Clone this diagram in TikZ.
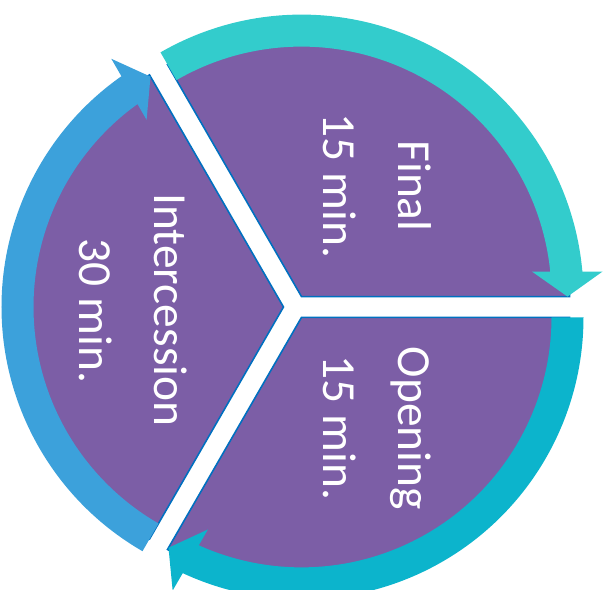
\documentclass[tikz,border=0pt]{standalone}
\usepackage{fontspec}
\setmainfont{Carlito}
\definecolor{sectorPurple}{RGB}{124,94,166}
\definecolor{edgeBlue}{RGB}{0,112,192}
\definecolor{arrowTeal}{RGB}{51,204,204}
\definecolor{arrowCyan}{RGB}{12,180,204}
\definecolor{arrowBlue}{RGB}{60,161,219}
\begin{document}
\begin{tikzpicture}[x=0.02cm, y=0.02cm,
  sector/.style={fill=sectorPurple, draw=edgeBlue, line width=0.9pt},
  phase/.style={text=white, rotate=-90, anchor=base, font=\fontsize{27}{32}\selectfont}]
\useasboundingbox (0,0) rectangle (606,590);
\coordinate (O) at (295.5,283);

\begin{scope}[shift={(O)}, rotate=0, shift={(60:12)}]
\filldraw[sector] (0,0) -- (0:268) arc[start angle=0, end angle=120, radius=268] -- cycle;
\fill[arrowTeal] (120:282) arc[start angle=120, end angle=5.09, radius=282] -- (301,25) -- (266,0) -- (230.5,25) -- (5.74:250) arc[start angle=5.74, end angle=120, radius=250] -- cycle;
\end{scope}

\begin{scope}[shift={(O)}, rotate=240, shift={(60:12)}]
\filldraw[sector] (0,0) -- (0:268) arc[start angle=0, end angle=120, radius=268] -- cycle;
\fill[arrowCyan] (120:282) arc[start angle=120, end angle=5.09, radius=282] -- (301,25) -- (266,0) -- (230.5,25) -- (5.74:250) arc[start angle=5.74, end angle=120, radius=250] -- cycle;
\end{scope}

\begin{scope}[shift={(O)}, rotate=120, shift={(60:12)}]
\filldraw[sector] (0,0) -- (0:268) arc[start angle=0, end angle=120, radius=268] -- cycle;
\fill[arrowBlue] (120:282) arc[start angle=120, end angle=5.09, radius=282] -- (301,25) -- (266,0) -- (230.5,25) -- (5.74:250) arc[start angle=5.74, end angle=120, radius=250] -- cycle;
\end{scope}

\node[phase] (final) at (398,404) {Final};
\node[phase] (finalTime) at (323,404) {15 min.};
\node[phase] (intercession) at (155,280) {Intercession};
\node[phase] (intercessionTime) at (80,279) {30 min.};
\node[phase] (opening) at (398,161.5) {Opening};
\node[phase] (openingTime) at (323,162) {15 min.};
\end{tikzpicture}
\end{document}
